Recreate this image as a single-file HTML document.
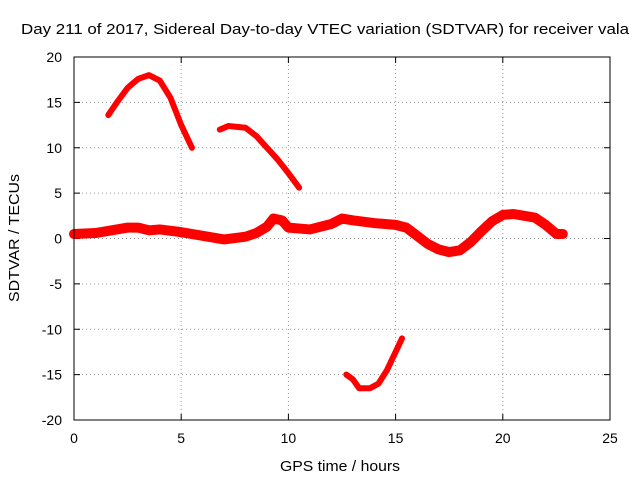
<!DOCTYPE html>
<html><head><meta charset="utf-8"><style>
body{margin:0;background:#fff;}
svg{display:block;font-family:"Liberation Sans",sans-serif;}
</style></head><body>
<svg id="chart" width="640" height="480">
<rect width="640" height="480" fill="#fff"/>
<text x="325" y="34" text-anchor="middle" font-size="15" textLength="608" lengthAdjust="spacingAndGlyphs">Day 211 of 2017, Sidereal Day-to-day VTEC variation (SDTVAR) for receiver vala</text>
<text x="340" y="471" text-anchor="middle" font-size="15" textLength="120" lengthAdjust="spacingAndGlyphs">GPS time / hours</text>
<text transform="translate(19,238) rotate(-90)" text-anchor="middle" font-size="15" textLength="128" lengthAdjust="spacingAndGlyphs">SDTVAR / TECUs</text>
<g id="grid"></g><g id="series"></g>
<rect x="74" y="57" width="536" height="363" fill="none" stroke="#000" stroke-width="1"/>
</svg>
<script>
const xTicks=[0,5,10,15,20,25];
const yTicks=[-20,-15,-10,-5,0,5,10,15,20];
const s1x=[1.6,2.0,2.5,3.0,3.5,4.0,4.5,5.0,5.5];
const s1y=[13.6,15,16.6,17.6,18,17.4,15.5,12.5,10];
const s2x=[6.8,7.2,8,8.5,9,9.5,10,10.5];
const s2y=[12,12.4,12.2,11.3,10,8.7,7.2,5.6];
const s3x=[0,1,2,2.5,3,3.5,4,5,6,7,8,8.5,9,9.3,9.7,10,11,12,12.5,13,14,15,15.5,16,16.5,17,17.5,18,18.5,19,19.5,20,20.5,21,21.5,22,22.5,22.8];
const s3y=[0.5,0.6,1,1.2,1.2,0.9,1,0.7,0.3,-0.1,0.2,0.6,1.3,2.2,2,1.2,1,1.6,2.2,2,1.7,1.5,1.2,0.3,-0.6,-1.2,-1.5,-1.3,-0.4,0.8,1.9,2.6,2.7,2.5,2.3,1.5,0.5,0.5];
const s4x=[12.7,13,13.3,13.8,14.2,14.6,15,15.3];
const s4y=[-15,-15.5,-16.5,-16.5,-16,-14.5,-12.5,-11];
const X=v=>74+v*536/25, Y=v=>238.5-v*363/40;
const NS="http://www.w3.org/2000/svg";
const g=document.getElementById('grid');
function mk(t,a,p){const e=document.createElementNS(NS,t);for(const k in a)e.setAttribute(k,a[k]);p.appendChild(e);return e;}
xTicks.forEach(v=>{
 if(v>0&&v<25){const l=mk('line',{x1:X(v),x2:X(v),y1:57,y2:420,stroke:'#999','stroke-dasharray':'1,3'},g);
 
 }
 const t=mk('text',{x:X(v),y:443,'text-anchor':'middle','font-size':14},g);t.textContent=v;
 
 
 mk('line',{x1:X(v),x2:X(v),y1:420,y2:414,stroke:'#000'},g);mk('line',{x1:X(v),x2:X(v),y1:57,y2:63,stroke:'#000'},g);
});
yTicks.forEach(v=>{
 if(v>-20&&v<20){const l=mk('line',{x1:74,x2:610,y1:Y(v),y2:Y(v),stroke:'#999','stroke-dasharray':'1,3'},g);
 
 }
 const t=mk('text',{x:62,y:Y(v)+5,'text-anchor':'end','font-size':14},g);t.textContent=v;
 
 
 mk('line',{x1:74,x2:80,y1:Y(v),y2:Y(v),stroke:'#000'},g);mk('line',{x1:610,x2:604,y1:Y(v),y2:Y(v),stroke:'#000'},g);
});
const sg=document.getElementById('series');
function draw(xs,ys,w,name){
 const p=mk('polyline',{points:xs.map((x,i)=>X(x)+','+Y(ys[i])).join(' '),fill:'none',stroke:'#f00','stroke-width':w,'stroke-linejoin':'round','stroke-linecap':'round'},sg);
 
 
}
draw(s1x,s1y,6,'series-arc-1');
draw(s2x,s2y,6,'series-arc-2');
draw(s3x,s3y,10,'series-main-band');
draw(s4x,s4y,6,'series-arc-negative');
</script>
</body></html>
